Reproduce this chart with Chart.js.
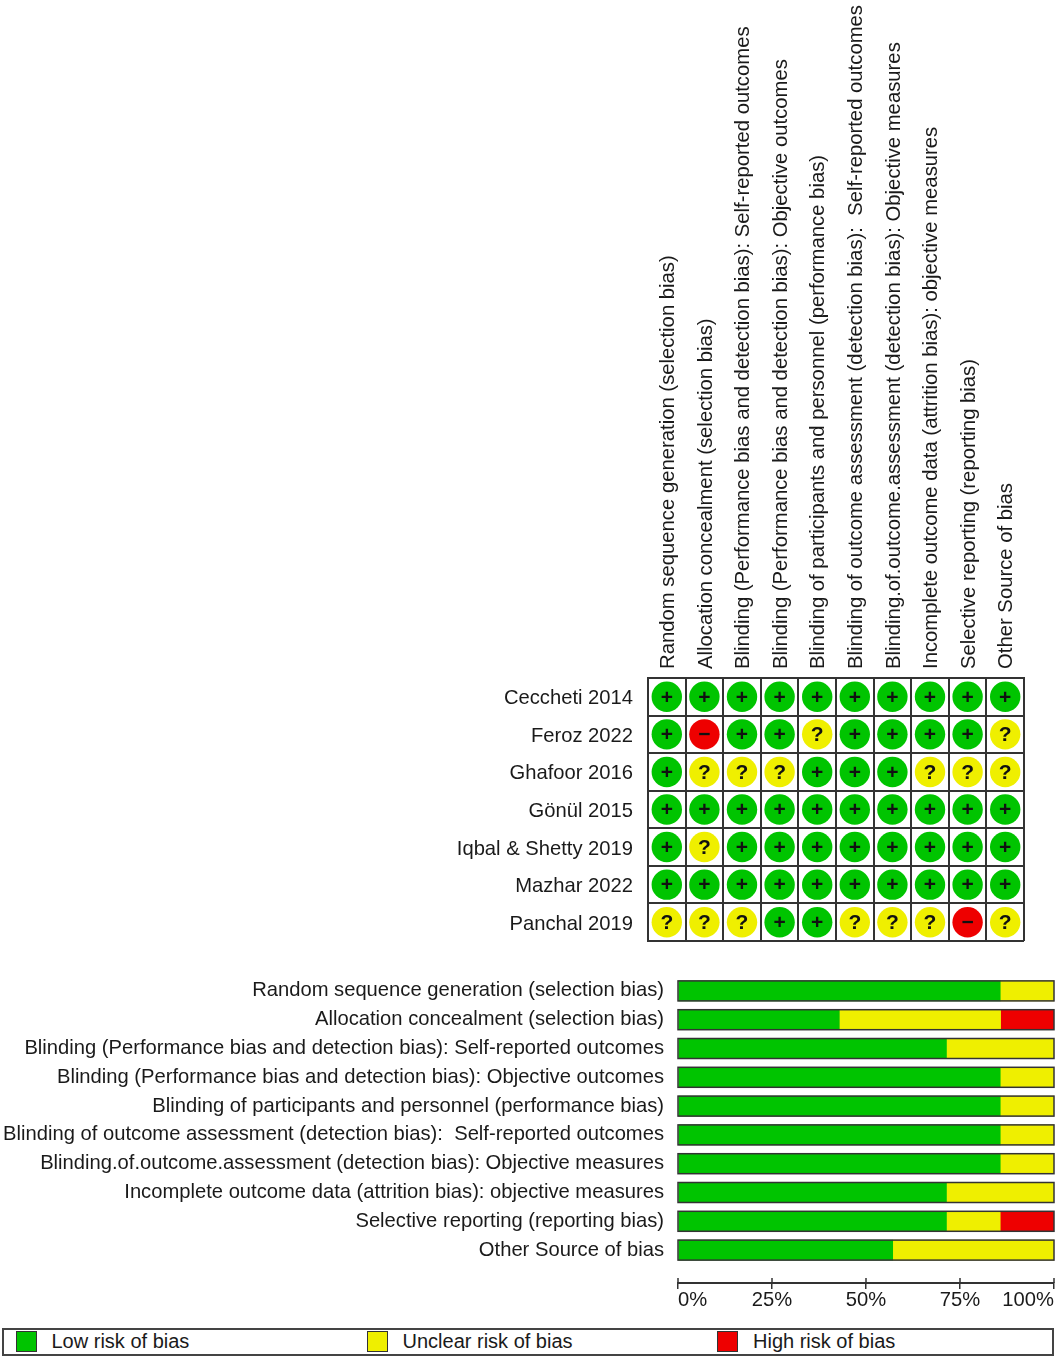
<!DOCTYPE html>
<html>
<head>
<meta charset="utf-8">
<title>Risk of bias</title>
<script src="https://cdn.jsdelivr.net/npm/chart.js@4"></script>
<style>
  html, body { margin: 0; padding: 0; background: #fff; }
  body { position: relative; width: 1056px; height: 1358px; overflow: hidden; font-family: "Liberation Sans", Arial, sans-serif; color: #1a1a1a; }
  canvas { position: absolute; left: 0; }
  #summary { top: 0; }
  #graph { top: 960px; }
  #legend { position: absolute; left: 2px; top: 1328px; width: 1052px; height: 28px; box-sizing: border-box; border: 2px solid #444; }
  .swatch { position: absolute; top: 1px; width: 21px; height: 21px; box-sizing: border-box; border: 1.5px solid #333; }
  .name { position: absolute; top: -1px; font-size: 20px; line-height: 24px; white-space: nowrap; }
</style>
</head>
<body>
<canvas id="summary" width="1056" height="955"></canvas>
<canvas id="graph" width="1056" height="360"></canvas>
<div id="legend"></div>
<script>
const domains = [
  'Random sequence generation (selection bias)',
  'Allocation concealment (selection bias)',
  'Blinding (Performance bias and detection bias): Self-reported outcomes',
  'Blinding (Performance bias and detection bias): Objective outcomes',
  'Blinding of participants and personnel (performance bias)',
  'Blinding of outcome assessment (detection bias):  Self-reported outcomes',
  'Blinding.of.outcome.assessment (detection bias): Objective measures',
  'Incomplete outcome data (attrition bias): objective measures',
  'Selective reporting (reporting bias)',
  'Other Source of bias',
];
const studies = ['Ceccheti 2014', 'Feroz 2022', 'Ghafoor 2016', 'Gönül 2015', 'Iqbal & Shetty 2019', 'Mazhar 2022', 'Panchal 2019'];

// one row per study, one symbol per domain
const ratings = [
  ['+', '+', '+', '+', '+', '+', '+', '+', '+', '+'],
  ['+', '−', '+', '+', '?', '+', '+', '+', '+', '?'],
  ['+', '?', '?', '?', '+', '+', '+', '?', '?', '?'],
  ['+', '+', '+', '+', '+', '+', '+', '+', '+', '+'],
  ['+', '?', '+', '+', '+', '+', '+', '+', '+', '+'],
  ['+', '+', '+', '+', '+', '+', '+', '+', '+', '+'],
  ['?', '?', '?', '+', '+', '?', '?', '?', '−', '?'],
];

const lowPercent = [85.7, 42.9, 71.4, 85.7, 85.7, 85.7, 85.7, 71.4, 71.4, 57.1];
const unclearPercent = [14.3, 42.9, 28.6, 14.3, 14.3, 14.3, 14.3, 28.6, 14.3, 42.9];
const highPercent = [0, 14.3, 0, 0, 0, 0, 0, 0, 14.3, 0];
const percentTicks = [0, 25, 50, 75, 100];

const riskNames = ['Low risk of bias', 'Unclear risk of bias', 'High risk of bias'];
const riskSymbols = ['+', '?', '−'];
const riskColors = ['#00c400', '#efef00', '#ee0000'];

const FONT = '"Liberation Sans", Arial, sans-serif';
const LABEL_SIZE = 20.2;
const INK = '#1a1a1a';
const RULE = '#333';

function pointsFor(symbol) {
  const points = [];
  ratings.forEach((row, r) => {
    row.forEach((value, d) => {
      if (value === symbol) points.push({ x: domains[d], y: studies[r] });
    });
  });
  return points;
}

// y axis asks for room above and below for its labels, which the layout doesn't need here
function fitYAxis(scale, width) {
  scale.width = width;
  scale.paddingTop = 0;
  scale.paddingBottom = 0;
}

// writes +, ? or - on top of each circle
const symbolPlugin = {
  id: 'symbols',
  afterDatasetsDraw(chart) {
    const ctx = chart.ctx;
    ctx.save();
    ctx.font = `bold 21px ${FONT}`;
    ctx.textAlign = 'center';
    ctx.textBaseline = 'middle';
    ctx.fillStyle = '#111';
    chart.data.datasets.forEach((dataset, i) => {
      chart.getDatasetMeta(i).data.forEach((point) => {
        ctx.fillText(riskSymbols[i], point.x, point.y + 1);
      });
    });
    ctx.restore();
  },
};

new Chart(document.getElementById('summary'), {
  type: 'scatter',
  plugins: [symbolPlugin],
  data: {
    datasets: riskNames.map((name, i) => ({
      label: name,
      data: pointsFor(riskSymbols[i]),
      backgroundColor: riskColors[i],
      borderWidth: 0,
      pointRadius: 15.2,
      pointHoverRadius: 15.2,
    })),
  },
  options: {
    responsive: false,
    animation: false,
    layout: { autoPadding: false, padding: { right: 32, bottom: 14 } },
    plugins: { legend: { display: false }, tooltip: { enabled: false } },
    scales: {
      x: {
        type: 'category',
        labels: domains,
        position: 'top',
        offset: true,
        afterFit(scale) { scale.height = 678; },
        grid: { offset: true, color: RULE, lineWidth: 2, drawTicks: false },
        border: { color: RULE, width: 2 },
        ticks: { autoSkip: false, minRotation: 90, maxRotation: 90, padding: 9, labelOffset: 26, color: INK, font: { family: FONT, size: 20.3 } },
      },
      y: {
        type: 'category',
        labels: studies,
        offset: true,
        afterFit(scale) { fitYAxis(scale, 648); },
        grid: { offset: true, color: RULE, lineWidth: 2, drawTicks: false },
        border: { color: RULE, width: 2 },
        ticks: { autoSkip: false, padding: 15, labelOffset: 2, color: INK, font: { family: FONT, size: LABEL_SIZE } },
      },
    },
  },
});

// outline round each whole bar, and the upper half of the axis ticks
const outlinePlugin = {
  id: 'outline',
  afterDraw(chart) {
    const ctx = chart.ctx;
    const xScale = chart.scales.x;
    const left = xScale.getPixelForValue(0);
    const right = xScale.getPixelForValue(100);
    ctx.save();
    ctx.strokeStyle = RULE;
    ctx.lineWidth = 1.5;
    chart.getDatasetMeta(0).data.forEach((bar) => {
      ctx.strokeRect(left, bar.y - bar.height / 2, right - left, bar.height);
    });
    const axisY = chart.scales.y.getPixelForValue(xScale.options.position.y);
    percentTicks.forEach((value) => {
      const tickX = Math.round(xScale.getPixelForValue(value));
      ctx.beginPath();
      ctx.moveTo(tickX, axisY - 5);
      ctx.lineTo(tickX, axisY);
      ctx.stroke();
    });
    ctx.restore();
  },
};

new Chart(document.getElementById('graph'), {
  type: 'bar',
  plugins: [outlinePlugin],
  data: {
    labels: domains,
    datasets: [lowPercent, unclearPercent, highPercent].map((values, i) => ({
      label: riskNames[i],
      data: values,
      backgroundColor: riskColors[i],
      borderWidth: 0,
      barThickness: 20,
    })),
  },
  options: {
    indexAxis: 'y',
    responsive: false,
    animation: false,
    layout: { autoPadding: false, padding: { top: 16.5, right: 2, bottom: 55.5 } },
    plugins: { legend: { display: false }, tooltip: { enabled: false } },
    scales: {
      x: {
        type: 'linear',
        stacked: true,
        min: 0,
        max: 100,
        position: { y: 10.14 },
        grid: { drawOnChartArea: false, color: RULE, lineWidth: 1.5, tickLength: 5 },
        border: { color: RULE, width: 2 },
        afterBuildTicks(scale) { scale.ticks = percentTicks.map((value) => ({ value })); },
        ticks: {
          align: 'inner',
          maxRotation: 0,
          padding: 0,
          color: INK,
          font: { family: FONT, size: LABEL_SIZE },
          callback: (value) => `${value}%`,
        },
      },
      y: {
        stacked: true,
        afterFit(scale) { fitYAxis(scale, 678); },
        grid: { display: false, drawTicks: false },
        border: { display: false },
        ticks: { autoSkip: false, padding: 14, color: INK, font: { family: FONT, size: LABEL_SIZE } },
      },
    },
  },
});

// legend row
const legend = document.getElementById('legend');
const legendSwatchX = [12, 363, 713];
const legendTextX = [47.5, 398.5, 749];
riskNames.forEach((name, i) => {
  const swatch = document.createElement('div');
  swatch.className = 'swatch';
  swatch.style.left = `${legendSwatchX[i]}px`;
  swatch.style.background = riskColors[i];
  const text = document.createElement('div');
  text.className = 'name';
  text.style.left = `${legendTextX[i]}px`;
  text.textContent = name;
  legend.append(swatch, text);
});
</script>
</body>
</html>
